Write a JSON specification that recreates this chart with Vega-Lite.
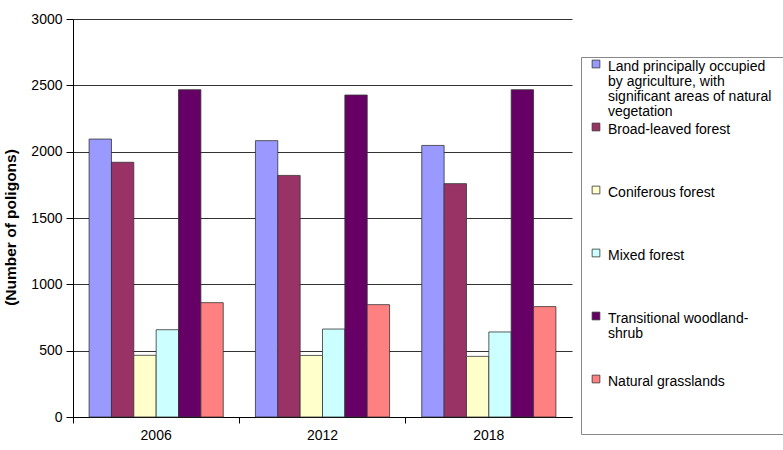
{
  "$schema": "https://vega.github.io/schema/vega-lite/v6.json",
  "autosize": {"type": "none"},
  "padding": {"left": 73, "top": 19, "right": 211, "bottom": 33},
  "width": 499,
  "height": 398,
  "background": "white",
  "config": {
    "font": "Liberation Sans",
    "view": {"stroke": null}
  },
  "data": {
    "values": [
      {"year": "2006", "class": "Land principally occupied by agriculture, with significant areas of natural vegetation", "value": 2095},
      {"year": "2006", "class": "Broad-leaved forest", "value": 1920},
      {"year": "2006", "class": "Coniferous forest", "value": 465},
      {"year": "2006", "class": "Mixed forest", "value": 658},
      {"year": "2006", "class": "Transitional woodland-shrub", "value": 2467},
      {"year": "2006", "class": "Natural grasslands", "value": 862},
      {"year": "2012", "class": "Land principally occupied by agriculture, with significant areas of natural vegetation", "value": 2083},
      {"year": "2012", "class": "Broad-leaved forest", "value": 1821},
      {"year": "2012", "class": "Coniferous forest", "value": 464},
      {"year": "2012", "class": "Mixed forest", "value": 663},
      {"year": "2012", "class": "Transitional woodland-shrub", "value": 2427},
      {"year": "2012", "class": "Natural grasslands", "value": 847},
      {"year": "2018", "class": "Land principally occupied by agriculture, with significant areas of natural vegetation", "value": 2047},
      {"year": "2018", "class": "Broad-leaved forest", "value": 1759},
      {"year": "2018", "class": "Coniferous forest", "value": 457},
      {"year": "2018", "class": "Mixed forest", "value": 641},
      {"year": "2018", "class": "Transitional woodland-shrub", "value": 2467},
      {"year": "2018", "class": "Natural grasslands", "value": 832}
    ]
  },
  "mark": {"type": "bar", "stroke": "#333333", "strokeWidth": 0.8},
  "encoding": {
    "x": {
      "field": "year", "type": "nominal",
      "scale": {"paddingInner": 0, "paddingOuter": 0},
      "axis": {
        "title": null, "labelAngle": 0, "bandPosition": 0,
        "domainColor": "#000000", "tickColor": "#000000", "tickSize": 6,
        "labelFontSize": 14, "labelColor": "#000000", "labelPadding": 5
      }
    },
    "xOffset": {
      "field": "class", "type": "nominal",
      "sort": null,
      "scale": {"paddingInner": 0, "paddingOuter": 0.72}
    },
    "y": {
      "field": "value", "type": "quantitative",
      "scale": {"domain": [0, 3000]},
      "axis": {
        "title": "(Number of poligons)",
        "titleFontSize": 15.5, "titleFontWeight": "bold", "titleColor": "#000000", "titlePadding": 12,
        "titleY": 208,
        "values": [0, 500, 1000, 1500, 2000, 2500, 3000],
        "format": "d",
        "labelFontSize": 14, "labelColor": "#000000", "labelPadding": 4,
        "tickSize": 7, "tickColor": "#000000", "domainColor": "#000000",
        "gridColor": "#333333", "gridWidth": 1
      }
    },
    "color": {
      "field": "class", "type": "nominal", "sort": null,
      "scale": {
        "domain": [
          "Land principally occupied by agriculture, with significant areas of natural vegetation",
          "Broad-leaved forest", "Coniferous forest", "Mixed forest",
          "Transitional woodland-shrub", "Natural grasslands"
        ],
        "range": ["#9999FF", "#993366", "#FFFFCC", "#CCFFFF", "#660066", "#FF8080"]
      },
      "legend": {
        "title": null,
        "orient": "none", "legendX": 508, "legendY": 38,
        "strokeColor": "#888888", "padding": 0,
        "symbolType": "square", "symbolSize": 60, "symbolStrokeColor": "#333333", "symbolStrokeWidth": 0.8,
        "symbolOffset": 8,
        "labelFontSize": 14, "labelColor": "#000000", "labelLimit": 400, "labelOffset": 5,
        "labelBaseline": "top",
        "gridAlign": "all", "rowPadding": 1,
        "labelExpr": "datum.label == 'Land principally occupied by agriculture, with significant areas of natural vegetation' ? ['\u00a0\u00a0Land principally occupied', 'by agriculture, with', 'significant areas of natural\u2800\u2800\u2800\u2800', 'vegetation'] : datum.label == 'Transitional woodland-shrub' ? ['\u00a0\u00a0Transitional woodland-', 'shrub'] : datum.label == 'Natural grasslands' ? ['\u00a0\u00a0Natural grasslands', '\u00a0', '\u00a0', '\u00a0'] : '\u00a0\u00a0' + datum.label",
        "encode": {
          "labels": {"update": {"lineHeight": {"value": 15}, "dy": {"value": -4}}}
        }
      }
    }
  }
}
